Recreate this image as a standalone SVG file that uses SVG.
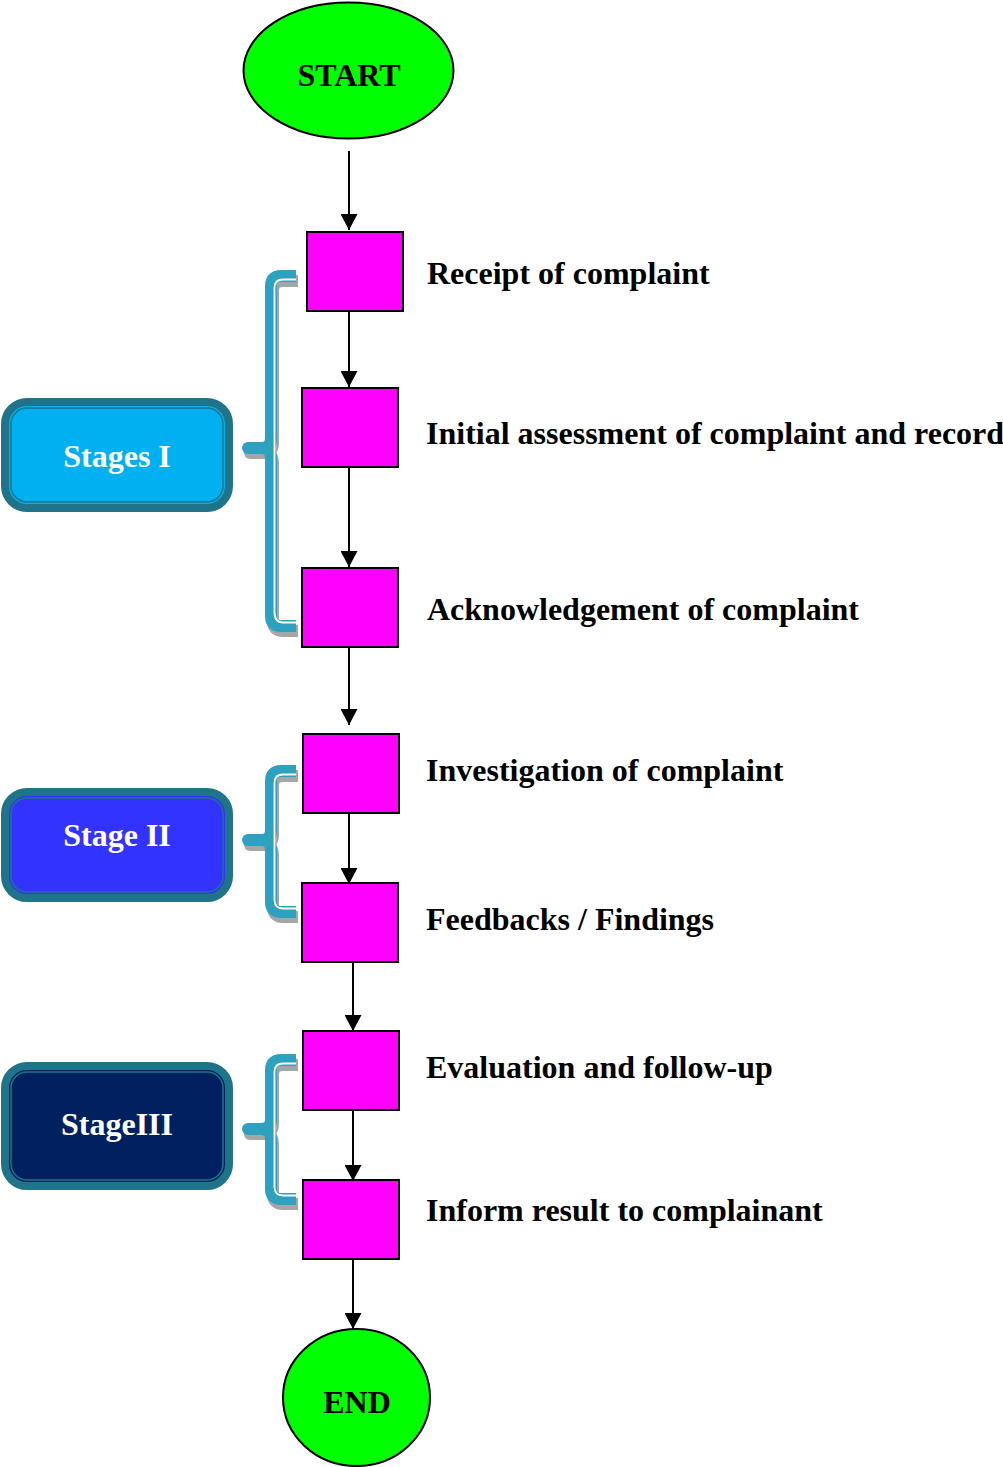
<svg xmlns="http://www.w3.org/2000/svg" width="1003" height="1467" viewBox="0 0 1003 1467">
  <defs>
    <marker id="arrow" markerUnits="userSpaceOnUse" viewBox="0 0 16 17" markerWidth="16" markerHeight="17" refX="16" refY="8.5" orient="auto">
      <path d="M0,0 L16,8.5 L0,17 Z" fill="#000"/>
    </marker>
    <style>
      .step { fill: #FF00FF; stroke: #000; stroke-width: 2; }
      .term { fill: #00FF00; stroke: #000; stroke-width: 2; }
      .label { font-family: "Liberation Serif", "Times New Roman", serif; font-weight: bold; font-size: 32px; fill: #000; }
      .termtext { font-family: "Liberation Serif", "Times New Roman", serif; font-weight: bold; font-size: 32px; fill: #000; text-anchor: middle; }
      .stagetext { font-family: "Liberation Serif", "Times New Roman", serif; font-weight: bold; font-size: 32px; fill: #FFFFFF; text-anchor: middle; }
      .stage-outer { stroke: #1F7489; stroke-width: 8; }
      .stage-inner { fill: none; stroke: #1F7489; stroke-width: 1.5; }
      .brace-shadow { fill: none; stroke: #A6A6A6; stroke-width: 12; stroke-linejoin: round; }
      .brace { fill: none; stroke: #2DA1BF; stroke-width: 12; stroke-linejoin: round; }
      .brace-gap { fill: none; stroke: #FFFFFF; stroke-width: 1.8; }
      .conn { stroke: #000; stroke-width: 2; fill: none; marker-end: url(#arrow); }
    </style>
  </defs>

  <!-- Connectors -->
  <g id="connectors">
    <line class="conn" x1="349" y1="151" x2="349" y2="230"/>
    <line class="conn" x1="349" y1="311" x2="349" y2="387"/>
    <line class="conn" x1="349" y1="467" x2="349" y2="567"/>
    <line class="conn" x1="349" y1="647" x2="349" y2="725"/>
    <line class="conn" x1="349" y1="813" x2="349" y2="884"/>
    <line class="conn" x1="353" y1="958" x2="353" y2="1031"/>
    <line class="conn" x1="353" y1="1105" x2="353" y2="1181"/>
    <line class="conn" x1="353" y1="1255" x2="353" y2="1329"/>
  </g>

  <!-- Terminals -->
  <g id="start">
    <ellipse class="term" cx="348.5" cy="70.5" rx="105" ry="68"/>
    <text class="termtext" x="349" y="86">START</text>
  </g>
  <g id="end">
    <ellipse class="term" cx="356.5" cy="1397.5" rx="73.5" ry="68.5"/>
    <text class="termtext" x="357" y="1413">END</text>
  </g>

  <!-- Process steps -->
  <g id="step-receipt">
    <rect class="step" x="307" y="232" width="96" height="79"/>
    <text class="label" x="427" y="284">Receipt of complaint</text>
  </g>
  <g id="step-initial">
    <rect class="step" x="302" y="388" width="96" height="79"/>
    <text class="label" x="426" y="444">Initial assessment of complaint and record</text>
  </g>
  <g id="step-ack">
    <rect class="step" x="302" y="568" width="96" height="79"/>
    <text class="label" x="427" y="620">Acknowledgement of complaint</text>
  </g>
  <g id="step-investigation">
    <rect class="step" x="303" y="734" width="96" height="79"/>
    <text class="label" x="426" y="781">Investigation of complaint</text>
  </g>
  <g id="step-feedback">
    <rect class="step" x="302" y="883" width="96" height="79"/>
    <text class="label" x="426" y="930">Feedbacks / Findings</text>
  </g>
  <g id="step-evaluation">
    <rect class="step" x="303" y="1031" width="96" height="79"/>
    <text class="label" x="426" y="1078">Evaluation and follow-up</text>
  </g>
  <g id="step-inform">
    <rect class="step" x="303" y="1180" width="96" height="79"/>
    <text class="label" x="426" y="1221">Inform result to complainant</text>
  </g>

  <!-- Stage braces -->
  <g id="brace-stage1">
    <g transform="translate(2,5)" fill="#A6A6A6">
      <path class="brace-shadow" d="M296,276 H281 Q271,276 271,286 V438 Q271,448 261,448 H248 M261,448 Q271,448 271,458 V616 Q271,626 281,626 H296"/>
      <circle cx="248" cy="448" r="6"/>
    </g>
    <path class="brace" d="M296,276 H281 Q271,276 271,286 V438 Q271,448 261,448 H248 M261,448 Q271,448 271,458 V616 Q271,626 281,626 H296"/>
    <circle cx="248" cy="448" r="6" fill="#2DA1BF"/>
    <path class="brace-gap" d="M296,279.5 H283 Q274.5,279.5 274.5,288 V612 Q274.5,622.5 283,622.5 H296"/>
  </g>
  <g id="brace-stage2">
    <g transform="translate(2,5)" fill="#A6A6A6">
      <path class="brace-shadow" d="M296,771 H281 Q271,771 271,781 V830 Q271,840 261,840 H248 M261,840 Q271,840 271,850 V902 Q271,912 281,912 H296"/>
      <circle cx="248" cy="840" r="6"/>
    </g>
    <path class="brace" d="M296,771 H281 Q271,771 271,781 V830 Q271,840 261,840 H248 M261,840 Q271,840 271,850 V902 Q271,912 281,912 H296"/>
    <circle cx="248" cy="840" r="6" fill="#2DA1BF"/>
    <path class="brace-gap" d="M296,774.5 H283 Q274.5,774.5 274.5,783 V900 Q274.5,908.5 283,908.5 H296"/>
  </g>
  <g id="brace-stage3">
    <g transform="translate(2,5)" fill="#A6A6A6">
      <path class="brace-shadow" d="M296,1060 H281 Q271,1060 271,1070 V1119 Q271,1129 261,1129 H248 M261,1129 Q271,1129 271,1139 V1189 Q271,1199 281,1199 H296"/>
      <circle cx="248" cy="1129" r="6"/>
    </g>
    <path class="brace" d="M296,1060 H281 Q271,1060 271,1070 V1119 Q271,1129 261,1129 H248 M261,1129 Q271,1129 271,1139 V1189 Q271,1199 281,1199 H296"/>
    <circle cx="248" cy="1129" r="6" fill="#2DA1BF"/>
    <path class="brace-gap" d="M296,1063.5 H283 Q274.5,1063.5 274.5,1072 V1187 Q274.5,1195.5 283,1195.5 H296"/>
  </g>

  <!-- Stage labels -->
  <g id="stage1">
    <rect class="stage-outer" x="5" y="402" width="224" height="106" rx="22" fill="#00B0F0"/>
    <rect class="stage-inner" x="11" y="408" width="212" height="94" rx="16"/>
    <text class="stagetext" x="117" y="467">Stages I</text>
  </g>
  <g id="stage2">
    <rect class="stage-outer" x="5" y="792" width="224" height="106" rx="22" fill="#3333FF"/>
    <rect class="stage-inner" x="11" y="798" width="212" height="94" rx="16"/>
    <text class="stagetext" x="117" y="846">Stage II</text>
  </g>
  <g id="stage3">
    <rect class="stage-outer" x="5" y="1066" width="224" height="120" rx="22" fill="#002060"/>
    <rect class="stage-inner" x="11" y="1072" width="212" height="108" rx="16"/>
    <text class="stagetext" x="117" y="1135">StageIII</text>
  </g>
</svg>
